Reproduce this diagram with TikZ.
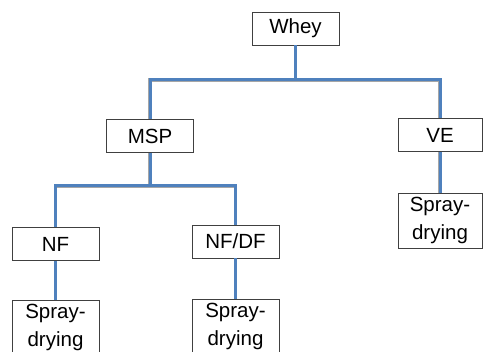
\documentclass[tikz,border=0pt]{standalone}
\usepackage{fontspec}
\setmainfont{Liberation Sans}
\usetikzlibrary{positioning}
\definecolor{linkblue}{RGB}{79,129,189}
\definecolor{boxgray}{RGB}{64,64,64}
\tikzset{
    stagebox/.style = {rectangle, draw=boxgray, line width=0.9pt, fill=white, minimum width=87pt, minimum height=33pt, inner sep=0pt, align=center, font=\fontsize{20.5}{28}\selectfont},
    dryingbox/.style = {stagebox, minimum height=55pt},
    link/.style = {line width=3pt, draw=linkblue},
    linkshadow/.style = {line width=3.4pt, draw=black!35, shift={(0.8,0.8)}},
}

\begin{document}
\begin{tikzpicture}[x=1pt,y=-1pt]
\useasboundingbox (0,0) rectangle (483,352);
%
\coordinate (top bus) at (295.5, 80);
\coordinate (msp bus) at (150, 186);
%
\node[stagebox] at (295.5, 28.5) (whey) {Whey};
\node[stagebox] at (150, 136) (msp) {MSP};
\node[stagebox,minimum width=84pt] at (440, 135) (ve) {VE};
\node[stagebox] at (55.5, 244) (nf) {NF};
\node[stagebox] at (235.5, 241.5) (nfdf) {NF/DF};
%
\node[dryingbox,minimum width=84pt] at (440, 220.5) (dry ve) {Spray-\\drying};
\node[dryingbox] at (55.5, 327.5) (dry nf) {Spray-\\drying};
\node[dryingbox] at (235.5, 326.5) (dry nfdf) {Spray-\\drying};
%
\foreach \s in {linkshadow, link} {
    \draw[\s] (whey.south) -- (top bus);
    \draw[\s] (msp.north) |- (top bus) -| (ve.north);
    \draw[\s] (msp.south) -- (msp bus);
    \draw[\s] (nf.north) |- (msp bus) -| (nfdf.north);
    \draw[\s] (ve.south) -- (dry ve.north);
    \draw[\s] (nf.south) -- (dry nf.north);
    \draw[\s] (nfdf.south) -- (dry nfdf.north);
}
\end{tikzpicture}
\end{document}
